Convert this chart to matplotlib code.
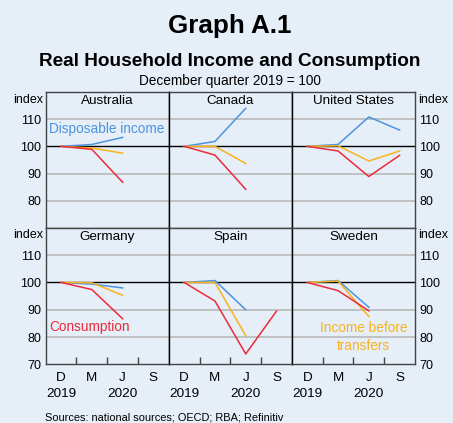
import numpy as np
import matplotlib
matplotlib.use("Agg")
import matplotlib.pyplot as plt

plt.rcParams['font.family'] = ['Liberation Sans', 'DejaVu Sans']

# ---- data ----
quarters = ["D", "M", "J", "S"]
year_labels = ["2019", "", "2020", ""]
countries = ["Australia", "Canada", "United States", "Germany", "Spain", "Sweden"]
nan = np.nan
disposable = {
    "Australia":     [100, 100.7, 103.3, nan],
    "Canada":        [100, 101.8, 114.0, nan],
    "United States": [100, 100.7, 110.8, 106.0],
    "Germany":       [100, 99.4, 98.0, nan],
    "Spain":         [100, 100.7, 90.0, nan],
    "Sweden":        [100, 100.7, 90.9, nan],
}
before_transfers = {
    "Australia":     [100, 99.4, 97.5, nan],
    "Canada":        [100, 100.0, 93.7, nan],
    "United States": [100, 100.2, 94.6, 98.3],
    "Germany":       [100, 99.9, 95.3, nan],
    "Spain":         [100, 100.0, 80.5, nan],
    "Sweden":        [100, 100.5, 87.5, nan],
}
consumption = {
    "Australia":     [100, 98.9, 86.8, nan],
    "Canada":        [100, 96.8, 84.2, nan],
    "United States": [100, 98.3, 88.9, 96.7],
    "Germany":       [100, 97.4, 86.7, nan],
    "Spain":         [100, 93.2, 73.8, 89.5],
    "Sweden":        [100, 97.0, 89.6, nan],
}

BG = "#E6EEF8"
BLUE = "#4C94DE"
RED = "#EC2B3C"
ORANGE = "#F9B21A"
W, H = 453, 423

fig = plt.figure(figsize=(W / 100, H / 100), dpi=100, facecolor=BG)

def fx(x):
    return x / W

def fy(y):
    return 1 - y / H

left_px = 45.7
panel_w = 123.1
rows = [(92.0, 227.9), (227.9, 364.3)]

x = np.arange(len(quarters))
for i, c in enumerate(countries):
    r, col = divmod(i, 3)
    top, bot = rows[r]
    ax = fig.add_axes([fx(left_px + col * panel_w), fy(bot), fx(panel_w), (bot - top) / H])
    ax.set_facecolor(BG)
    ax.set_xlim(-0.5, 3.5)
    ax.set_ylim(70, 120)
    for g in (80, 90, 110):
        ax.axhline(g, color="#BDBDBD", lw=1.3, zorder=1)
    ax.axhline(100, color="black", lw=1.0, zorder=2)
    ax.plot(x, disposable[c], color=BLUE, lw=1.1, zorder=3)
    ax.plot(x, before_transfers[c], color=ORANGE, lw=1.1, zorder=4)
    ax.plot(x, consumption[c], color=RED, lw=1.1, zorder=5)
    ax.text(0.5, 0.935, c, transform=ax.transAxes, ha="center", va="center", fontsize=9.7)

    for s in ax.spines.values():
        s.set_color("#444444")
        s.set_linewidth(1.0)
    if col > 0:
        ax.spines["left"].set_color("black")
    if col < 2:
        ax.spines["right"].set_color("black")

    yt = [80, 90, 100, 110] if r == 0 else [70, 80, 90, 100, 110]
    ax.set_yticks(yt)
    ax.set_yticklabels([str(v) for v in yt])
    ax.tick_params(axis="y", length=0, labelsize=9, pad=3,
                   left=False, right=False,
                   labelleft=(col == 0), labelright=(col == 2))
    if r == 1:
        ax.set_xticks([0.5, 1.5, 2.5])
        ax.tick_params(axis="x", direction="in", length=5, width=1.0,
                       color="#444444", labelbottom=False)
        for k, q in enumerate(quarters):
            ax.text(k, -0.1, q, transform=ax.get_xaxis_transform(),
                    ha="center", va="center", fontsize=9.7)
            if year_labels[k]:
                ax.text(k, -0.22, year_labels[k], transform=ax.get_xaxis_transform(),
                        ha="center", va="center", fontsize=9.7)
    else:
        ax.set_xticks([])

    if c == "Australia":
        ax.text(0.03, 0.73, "Disposable income", transform=ax.transAxes,
                color=BLUE, fontsize=9.8, ha="left", va="center")
    if c == "Germany":
        ax.text(0.03, 0.27, "Consumption", transform=ax.transAxes,
                color=RED, fontsize=9.8, ha="left", va="center")
    if c == "Sweden":
        ax.text(0.58, 0.20, "Income before\ntransfers", transform=ax.transAxes,
                color=ORANGE, fontsize=9.8, ha="center", va="center",
                linespacing=1.35, multialignment="center")

# index labels
for yy in (99.5, 234.5):
    fig.text(fx(43), fy(yy), "index", ha="right", va="center", fontsize=9)
    fig.text(fx(418), fy(yy), "index", ha="left", va="center", fontsize=9)

fig.text(0.508, fy(26), "Graph A.1", ha="center", va="center", fontsize=18.7, fontweight="bold")
fig.text(0.508, fy(62), "Real Household Income and Consumption", ha="center", va="center",
         fontsize=13.7, fontweight="bold")
fig.text(0.508, fy(80.5), "December quarter 2019 = 100", ha="center", va="center", fontsize=9.8)
fig.text(fx(45), fy(417), "Sources: national sources; OECD; RBA; Refinitiv", ha="left",
         va="center", fontsize=7.9)

fig.savefig("out.png", dpi=100, facecolor=BG)
